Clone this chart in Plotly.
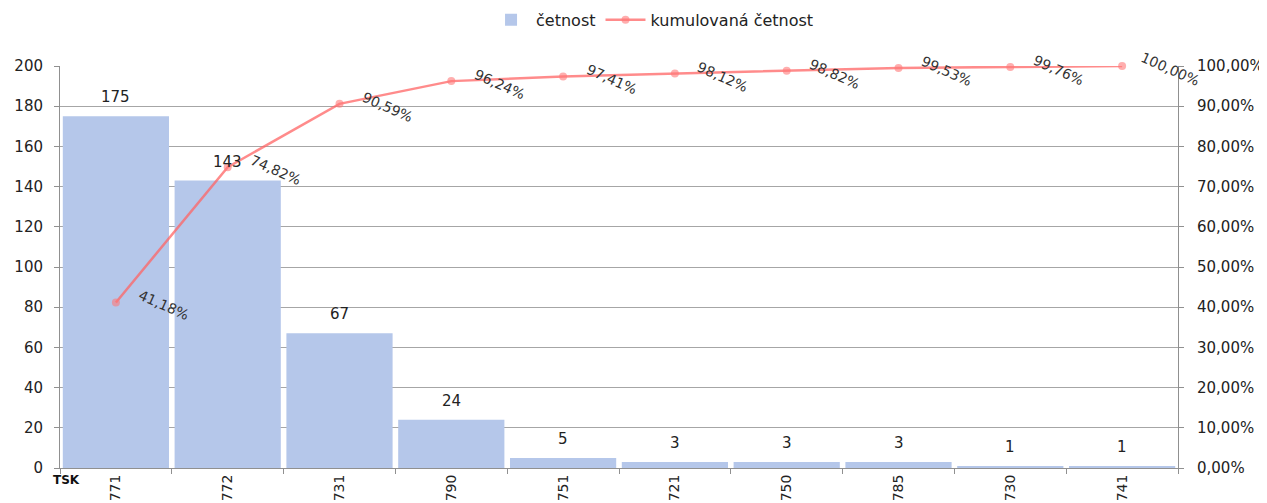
import plotly.graph_objects as go

categories = ["771", "772", "731", "790", "751", "721", "750", "785", "730", "741"]
counts = [175, 143, 67, 24, 5, 3, 3, 3, 1, 1]
cumulative_pct = [41.18, 74.82, 90.59, 96.24, 97.41, 98.12, 98.82, 99.53, 99.76, 100.00]
left_ticks = [0, 20, 40, 60, 80, 100, 120, 140, 160, 180, 200]
right_ticks = [0, 10, 20, 30, 40, 50, 60, 70, 80, 90, 100]

FONT = "DejaVu Sans"
fig = go.Figure()
fig.add_trace(go.Bar(
    x=categories, y=counts, name="četnost",
    marker=dict(color="#b5c7ea", line=dict(width=0)),
))
fig.add_trace(go.Scatter(
    x=categories, y=cumulative_pct, name="kumulovaná četnost", yaxis="y2",
    mode="lines+markers",
    line=dict(color="rgba(255,100,100,0.75)", width=2.5),
    marker=dict(color="rgba(255,120,120,0.6)", size=8),
    cliponaxis=False,
))

annotations = []
for i, c in enumerate(counts):
    annotations.append(dict(
        x=i, y=c, xref="x", yref="y", text=str(c), showarrow=False,
        xanchor="center", yanchor="bottom", yshift=8,
        font=dict(family=FONT, size=15, color="#222222"),
    ))
for i, p in enumerate(cumulative_pct):
    annotations.append(dict(
        x=i, y=p, xref="x", yref="y2",
        text=(f"{p:.2f}".replace(".", ",") + "%"),
        showarrow=False, textangle=24, xanchor="center", yanchor="middle",
        xshift=48, yshift=-3,
        font=dict(family=FONT, size=14, color="#333333"),
    ))
annotations.append(dict(
    x=0.0, y=0, xref="paper", yref="paper", text="<b>TSK</b>",
    showarrow=False, xanchor="left", yanchor="top", yshift=-3, xshift=-9,
    font=dict(family=FONT, size=12, color="#111111"),
))

fig.update_layout(
    width=1267, height=503,
    margin=dict(l=52, r=97, t=58, b=43, autoexpand=False),
    paper_bgcolor="white", plot_bgcolor="white",
    separators=", ",
    bargap=0.05,
    font=dict(family=FONT, size=15, color="#222222"),
    showlegend=True,
    legend=dict(orientation="h", x=0.53, xanchor="center", y=1.115, yanchor="middle",
                itemwidth=40,
                font=dict(family=FONT, size=16, color="#222222")),
    xaxis=dict(
        type="category", range=[-0.5, len(categories) - 0.5],
        showgrid=False, showline=True, linecolor="#909090",
        ticks="outside", tickson="boundaries", ticklen=5, tickcolor="#909090",
        tickangle=-90, tickfont=dict(family=FONT, size=14, color="#222222"),
        automargin=False,
    ),
    yaxis=dict(
        range=[0, 200], tickvals=left_ticks, showgrid=True, gridcolor="#a6a6a6",
        showline=True, linecolor="#909090", ticks="outside", ticklen=5,
        tickcolor="#909090", zeroline=False, automargin=False,
        ticklabelstandoff=8,
        tickfont=dict(family=FONT, size=15, color="#222222"),
    ),
    yaxis2=dict(
        range=[0, 100], tickvals=right_ticks,
        ticktext=[f"{v:.2f}".replace(".", ",") + "%" for v in right_ticks],
        overlaying="y", side="right", showgrid=False, showline=True,
        linecolor="#909090", ticks="outside", ticklen=5, tickcolor="#909090",
        zeroline=False, automargin=False, ticklabelstandoff=10,
        tickfont=dict(family=FONT, size=15, color="#222222"),
    ),
    annotations=annotations,
)

fig.write_html("out.html")
